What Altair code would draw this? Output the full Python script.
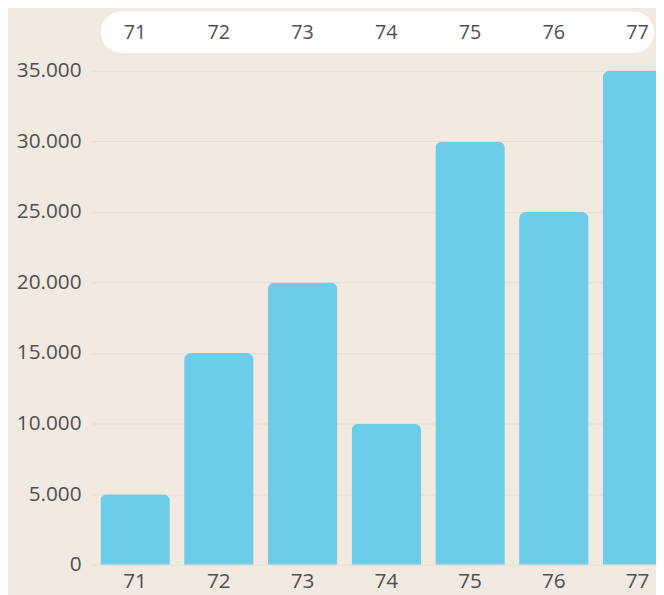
import altair as alt
import pandas as pd

categories = ["71", "72", "73", "74", "75", "76", "77"]
values = [5000, 15000, 20000, 10000, 30000, 25000, 35000]
y_ticks = [0, 5000, 10000, 15000, 20000, 25000, 30000, 35000]

df = pd.DataFrame({"cat": categories, "val": values})

BG = "#F2E9E1"
BAR = "#6DCDE8"
TXT = "#505050"
FONT = "Open Sans"

xscale = alt.Scale(domain=categories, range=[0, 596], paddingInner=0.17, paddingOuter=0.1)

bars = alt.Chart(df).mark_bar(
    color=BAR, cornerRadiusTopLeft=7, cornerRadiusTopRight=7
).encode(
    x=alt.X("cat:N", scale=xscale,
            axis=alt.Axis(title=None, labelAngle=0, ticks=False, domain=False,
                          labelFontSize=21, labelColor=TXT, labelFont=FONT,
                          labelPadding=6, grid=False)),
    y=alt.Y("val:Q", scale=alt.Scale(domain=[0, 35000], nice=False),
            axis=alt.Axis(title=None, values=y_ticks, ticks=False, domain=False,
                          labelFontSize=21, labelColor=TXT, labelFont=FONT,
                          labelPadding=11, grid=True, gridColor="#E6DCD2",
                          gridWidth=1,
                          labelExpr="replace(format(datum.value, ','), ',', '.')")),
)

pill = alt.Chart(alt.Data(values=[{"k": 1}])).mark_rect(
    color="white", cornerRadius=21
).encode(
    x=alt.value(9), x2=alt.value(569), y=alt.value(-60), y2=alt.value(-18)
)

top_labels = alt.Chart(df).mark_text(
    font=FONT, fontSize=20, color=TXT, baseline="middle"
).encode(
    x=alt.X("cat:N", scale=xscale),
    y=alt.value(-38),
    text="cat:N",
)

chart = alt.layer(pill, bars, top_labels).properties(
    width=571, height=500,
    background=BG,
    padding={"left": 85, "top": 60, "right": 0, "bottom": 27},
    autosize=alt.AutoSizeParams(type="none"),
).configure_view(stroke=None)

chart.save("out.html", embed_options={"renderer": "svg", "actions": False})
